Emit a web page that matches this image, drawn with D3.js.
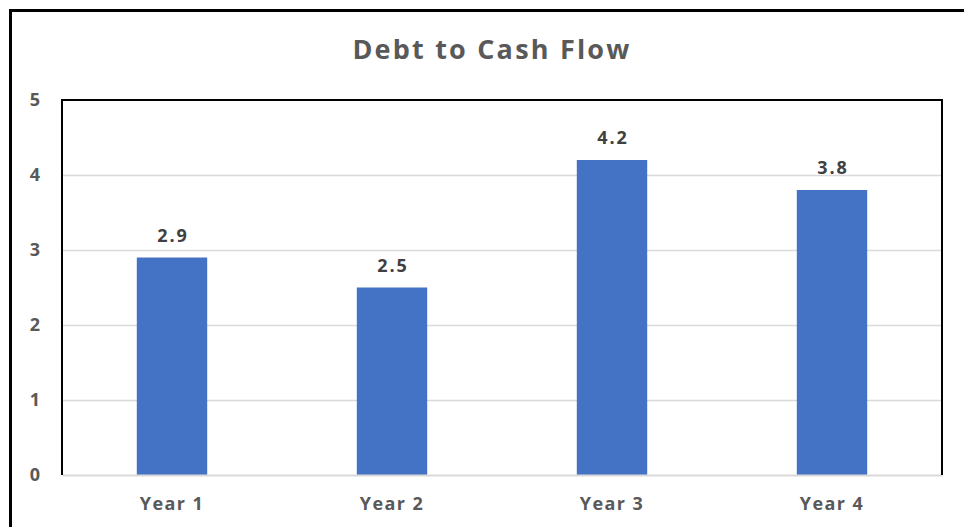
<!DOCTYPE html>
<html>
<head>
<meta charset="utf-8">
<script src="https://cdn.jsdelivr.net/npm/d3@7"></script>
<style>
  body { margin: 0; background: #fff; }
  svg { display: block; }
  text { font-family: "Open Sans", "DejaVu Sans", sans-serif; font-weight: bold; }
</style>
</head>
<body>
<div id="chart"></div>
<script>
// 資料
const categories = ["Year 1", "Year 2", "Year 3", "Year 4"];
const values = [2.9, 2.5, 4.2, 3.8];
const yTicks = [0, 1, 2, 3, 4, 5];
const title = "Debt to Cash Flow";

const W = 964, H = 527;
const margin = {top: 100, right: 22, bottom: 52, left: 62};
const width = W - margin.left - margin.right;
const height = H - margin.top - margin.bottom;

const svg = d3.select("#chart").append("svg")
    .attr("width", W)
    .attr("height", H);

// 外框
svg.append("path")
    .attr("d", `M10.5,${H} V10.5 H${W}`)
    .attr("fill", "none")
    .attr("stroke", "#000")
    .attr("stroke-width", 3);

// 標題
svg.append("text")
    .attr("x", 492)
    .attr("y", 59)
    .attr("text-anchor", "middle")
    .attr("font-size", 27)
    .attr("letter-spacing", 2.2)
    .attr("fill", "#595959")
    .text(title);

const g = svg.append("g")
    .attr("transform", `translate(${margin.left},${margin.top})`);

// 比例尺
const x = d3.scaleBand()
    .domain(categories)
    .range([0, width])
    .paddingInner(0.68)
    .paddingOuter(0.34);

const y = d3.scaleLinear()
    .domain([0, 5])
    .range([height, 0]);

// 格線
g.selectAll(".grid")
    .data(yTicks.slice(1, -1))
    .enter()
    .append("line")
    .attr("class", "grid")
    .attr("x1", 0)
    .attr("x2", width)
    .attr("y1", d => y(d) + 0.5)
    .attr("y2", d => y(d) + 0.5)
    .attr("stroke", "#d9d9d9")
    .attr("stroke-width", 1.5);

// bar
g.selectAll(".bar")
    .data(values)
    .enter()
    .append("rect")
    .attr("class", "bar")
    .attr("x", (d, i) => x(categories[i]))
    .attr("y", d => y(d))
    .attr("width", x.bandwidth())
    .attr("height", d => height - y(d))
    .attr("fill", "#4472c4");

// 數值標籤
g.selectAll(".label")
    .data(values)
    .enter()
    .append("text")
    .attr("class", "label")
    .attr("x", (d, i) => x(categories[i]) + x.bandwidth() / 2 + 1)
    .attr("y", d => y(d) - 16)
    .attr("text-anchor", "middle")
    .attr("font-size", 18)
    .attr("letter-spacing", 2)
    .attr("fill", "#404040")
    .text(d => d.toFixed(1));

// x 軸
const xAxis = g.append("g")
    .attr("transform", `translate(0,${height})`)
    .call(d3.axisBottom(x).tickSize(0).tickPadding(22));
xAxis.select(".domain").attr("stroke", "#d9d9d9").attr("stroke-width", 2);
xAxis.selectAll("text")
    .attr("font-size", 18)
    .attr("letter-spacing", 1.4)
    .attr("fill", "#595959")
    .style("font-family", "\"Open Sans\", sans-serif")
    .style("font-weight", "bold");

// y 軸
const yAxis = g.append("g")
    .call(d3.axisLeft(y).tickValues(yTicks).tickSize(0).tickPadding(22).tickFormat(d3.format("d")));
yAxis.select(".domain").remove();
yAxis.selectAll("text")
    .attr("font-size", 18)
    .attr("fill", "#595959")
    .style("font-family", "\"Open Sans\", sans-serif")
    .style("font-weight", "bold");

// 繪圖區框 (左、上、右)
g.append("path")
    .attr("d", `M0,${height} V0 H${width} V${height}`)
    .attr("fill", "none")
    .attr("stroke", "#000")
    .attr("stroke-width", 2);
</script>
</body>
</html>
